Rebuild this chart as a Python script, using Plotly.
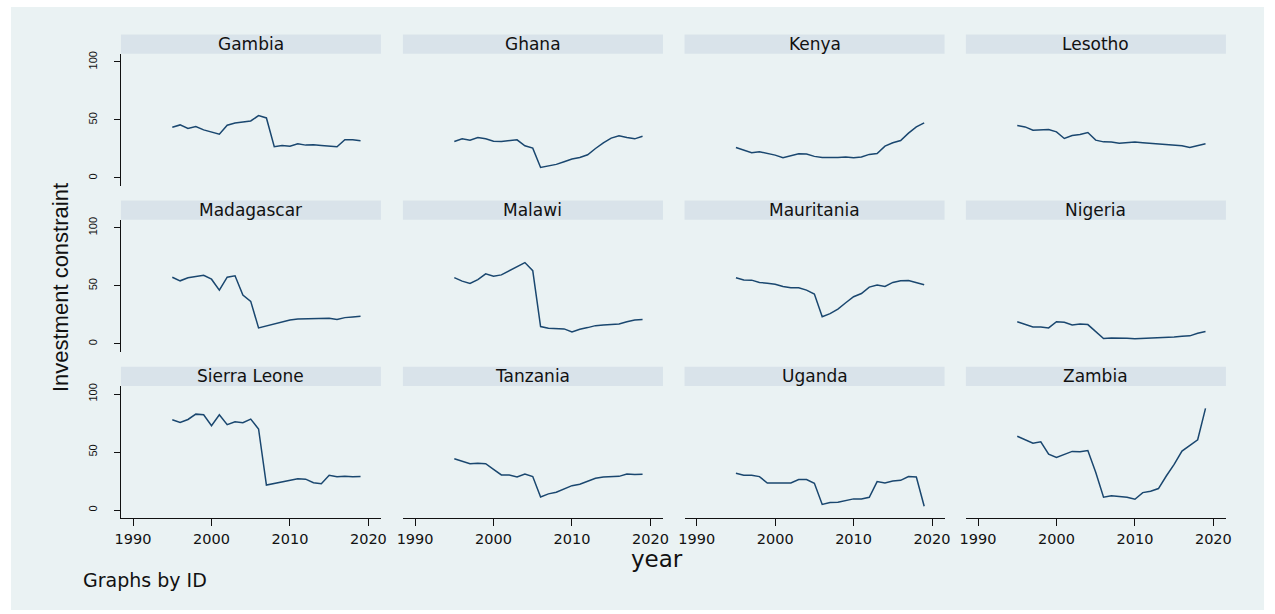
import plotly.graph_objects as go

years = list(range(1995, 2020))
countries = ["Gambia", "Ghana", "Kenya", "Lesotho",
             "Madagascar", "Malawi", "Mauritania", "Nigeria",
             "Sierra Leone", "Tanzania", "Uganda", "Zambia"]

gambia = [43.7, 45.7, 42.6, 44.3, 41.4, 39.7, 37.7, 45.4, 47.4, 48.3, 49.1, 53.7, 51.7,
          26.9, 28.0, 27.4, 29.4, 28.3, 28.6, 28.0, 27.4, 26.9, 32.9, 32.9, 32.0]
ghana = [31.4, 33.7, 32.6, 34.9, 33.7, 31.7, 31.4, 32.3, 32.9, 27.7, 25.7, 9.1, 10.6,
         11.7, 14.0, 16.3, 17.7, 20.0, 25.4, 30.3, 34.3, 36.3, 34.9, 33.7, 36.0]
kenya = [26.3, 24.0, 21.7, 22.6, 21.1, 19.7, 17.4, 19.4, 20.9, 20.6, 18.6, 17.7, 17.4,
         17.7, 18.0, 17.4, 18.0, 20.3, 21.1, 27.4, 30.3, 32.3, 38.6, 44.0, 47.4]
lesotho = [45.1, 44.0, 41.1, 41.7, 41.7, 39.7, 34.0, 36.6, 37.4, 39.1, 32.6, 31.1, 30.9,
           30.0, 30.3, 30.9, 30.3, 29.7, 29.1, 28.6, 28.0, 27.7, 26.3, 28.0, 29.4]
madagascar = [57.4, 54.3, 56.9, 58.0, 59.1, 55.7, 46.3, 57.4, 58.6, 42.0, 36.6, 13.7, 15.4,
              17.7, 19.4, 20.6, 21.4, 21.7, 21.7, 21.7, 22.0, 20.9, 22.6, 23.1, 23.7]
malawi = [57.1, 54.0, 52.0, 55.4, 60.3, 58.3, 59.4, 62.9, 66.0, 70.0, 63.1, 14.9, 13.4,
          12.9, 12.9, 10.3, 12.6, 14.0, 15.7, 16.3, 16.9, 17.1, 19.1, 20.6, 20.9]
mauritania = [56.9, 55.1, 54.9, 52.9, 52.3, 51.4, 49.4, 48.3, 48.3, 46.3, 42.9, 23.4, 26.0,
              30.0, 35.4, 40.6, 43.4, 48.9, 50.6, 49.4, 52.9, 54.3, 54.6, 52.9, 50.9]
nigeria = [19.1, 16.9, 14.6, 14.6, 13.7, 19.1, 18.6, 16.3, 17.1, 16.6, 10.9, 4.6, 5.1,
           5.1, 4.9, 4.3, 4.6, 4.6, 4.9, 5.4, 6.0, 6.6, 6.9, 9.1, 10.6]
sierra_leone = [77.8, 75.6, 78.1, 82.7, 82.1, 72.7, 82.1, 73.6, 76.1, 75.3, 78.4, 69.9, 21.6,
                23.0, 24.7, 25.6, 27.0, 26.7, 23.6, 22.7, 30.1, 28.7, 29.3, 28.7, 29.0]
tanzania = [44.3, 42.0, 40.0, 40.3, 40.0, 35.1, 30.3, 30.3, 28.6, 31.1, 28.9, 11.4, 14.0,
            15.4, 18.3, 21.1, 22.3, 24.6, 27.4, 28.6, 29.1, 29.1, 31.1, 30.6, 30.9]
uganda = [31.7, 30.0, 30.0, 28.9, 23.4, 23.1, 23.4, 23.4, 26.3, 26.3, 23.1, 4.9, 6.6,
          6.9, 8.3, 9.7, 9.7, 11.1, 24.6, 23.4, 25.1, 25.7, 28.9, 28.6, 3.4]
zambia = [63.7, 60.9, 57.7, 58.9, 48.3, 45.4, 48.0, 50.6, 50.3, 51.4, 32.6, 11.1, 12.3,
          12.0, 11.1, 9.4, 15.1, 16.3, 18.6, 29.4, 39.4, 50.9, 56.0, 60.6, 87.7]

series = [gambia, ghana, kenya, lesotho, madagascar, malawi, mauritania, nigeria,
          sierra_leone, tanzania, uganda, zambia]

x_ticks = [1990, 2000, 2010, 2020]
y_ticks = [0, 50, 100]

W, H = 1275, 614
col_left = [116, 400.7, 685, 969]
col_w = 262.5
row_top = [51, 217.7, 384.8]
row_h = 133
strip_h = 19.3

BG = "#eaf2f3"
STRIP = "#d9e3ea"
LINE = "#1a476f"

fig = go.Figure()
layout = {}
shapes = [dict(type="rect", xref="paper", yref="paper", x0=5 / W, x1=1 - 5 / W,
               y0=4 / H, y1=1 - 4 / H, fillcolor=BG, line_width=0, layer="below")]
annotations = []

for i, (name, vals) in enumerate(zip(countries, series)):
    r, c = divmod(i, 4)
    k = i + 1
    xa = "x" if k == 1 else f"x{k}"
    ya = "y" if k == 1 else f"y{k}"
    fig.add_trace(go.Scatter(x=years, y=vals, mode="lines",
                             line=dict(color=LINE, width=1.5),
                             xaxis=xa, yaxis=ya, showlegend=False,
                             hoverinfo="skip"))
    x0 = col_left[c] / W
    x1 = (col_left[c] + col_w) / W
    y1 = 1 - row_top[r] / H
    y0 = 1 - (row_top[r] + row_h) / H
    bottom = (r == 2)
    left = (c == 0)
    layout["xaxis" if k == 1 else f"xaxis{k}"] = dict(
        domain=[x0, x1], anchor=ya, range=[1988.45, 2021.6],
        tickvals=x_ticks, showticklabels=bottom,
        ticks="outside" if bottom else "", ticklen=7, tickcolor="#111",
        tickwidth=1.2,
        showline=bottom, linecolor="#111", linewidth=1.2,
        showgrid=False, zeroline=False,
        tickfont=dict(family="DejaVu Sans", size=14.5, color="#111"),
    )
    layout["yaxis" if k == 1 else f"yaxis{k}"] = dict(
        domain=[y0, y1], anchor=xa, range=[-7, 107],
        tickvals=y_ticks, showticklabels=left,
        ticks="outside" if left else "", ticklen=6, tickcolor="#111",
        tickwidth=1.2,
        showline=left, linecolor="#111", linewidth=1.2,
        showgrid=True, gridcolor=BG, gridwidth=1.2, zeroline=False,
        tickangle=-90, ticklabelstandoff=12,
        tickfont=dict(family="Liberation Sans", size=11, color="#111"),
    )
    shapes.append(dict(type="rect", xref="paper", yref="paper", x0=x0, x1=x1,
                       y0=y1, y1=1 - (row_top[r] - strip_h) / H,
                       fillcolor=STRIP, line_width=0, layer="below"))
    annotations.append(dict(text=name, xref="paper", yref="paper",
                            x=(x0 + x1) / 2, y=1 - (row_top[r] - strip_h / 2) / H,
                            xanchor="center", yanchor="middle", showarrow=False,
                            font=dict(family="DejaVu Sans", size=17, color="#111")))

annotations.append(dict(text="Investment constraint", xref="paper", yref="paper",
                        x=55 / W, y=1 - 286 / H, textangle=-90, showarrow=False,
                        xanchor="center", yanchor="middle",
                        font=dict(family="Liberation Sans", size=22, color="#111")))
annotations.append(dict(text="year", xref="paper", yref="paper",
                        x=657 / W, y=1 - 559 / H, showarrow=False,
                        xanchor="center", yanchor="middle",
                        font=dict(family="DejaVu Sans", size=23, color="#111")))
annotations.append(dict(text="Graphs by ID", xref="paper", yref="paper",
                        x=76 / W, y=1 - 580 / H, showarrow=False,
                        xanchor="left", yanchor="middle",
                        font=dict(family="DejaVu Sans", size=19, color="#111")))

fig.update_layout(
    width=W, height=H, margin=dict(l=0, r=0, t=0, b=0),
    paper_bgcolor="white", plot_bgcolor="white",
    shapes=shapes, annotations=annotations, **layout,
)

fig.write_html(
    "out.html",
    config={"responsive": False, "displayModeBar": False},
    post_script="document.body.style.margin='0';document.body.style.overflow='hidden';",
)
